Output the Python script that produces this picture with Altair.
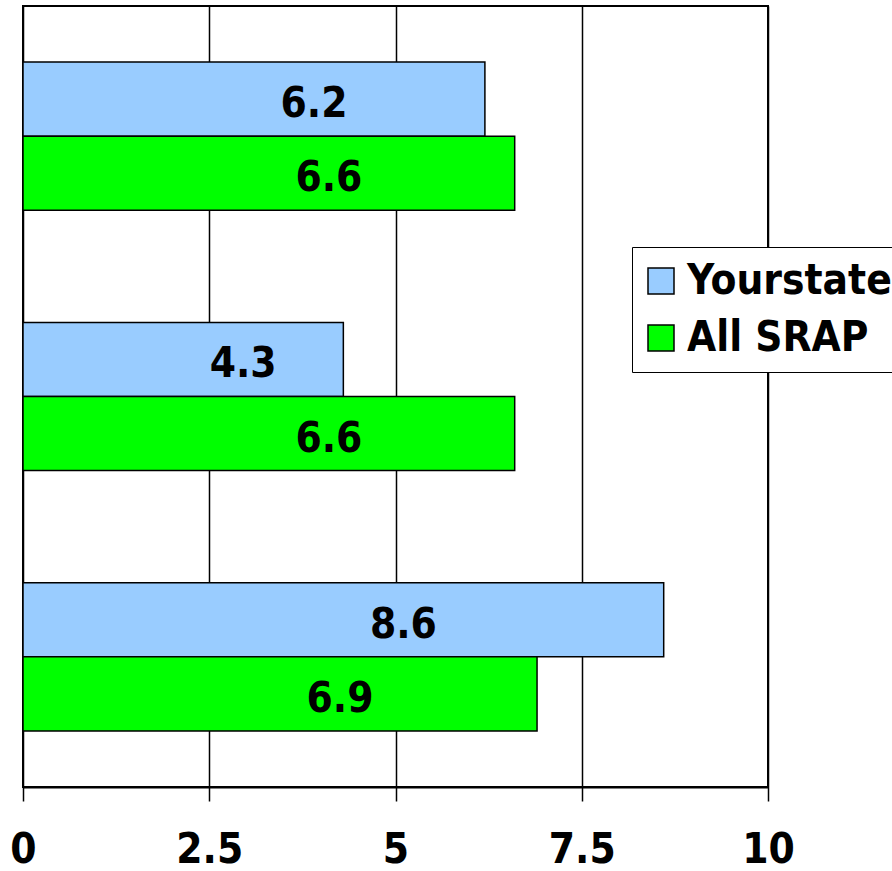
import altair as alt
import pandas as pd

groups = ["Group 1", "Group 2", "Group 3"]
series = ["Yourstate", "All SRAP"]
yourstate = [6.2, 4.3, 8.6]
all_srap = [6.6, 6.6, 6.9]
x_ticks = [0, 2.5, 5, 7.5, 10]
colors = ["#99CCFF", "#00FF00"]

rows = []
for g, a, b in zip(groups, yourstate, all_srap):
    rows.append({"group": g, "series": series[0], "value": a})
    rows.append({"group": g, "series": series[1], "value": b})
df = pd.DataFrame(rows)

FONT = "DejaVu Sans Condensed, DejaVu Sans, sans-serif"

base = alt.Chart(df).encode(
    y=alt.Y("group:N", sort=groups, axis=None,
            scale=alt.Scale(paddingInner=0.431, paddingOuter=0.2155)),
    yOffset=alt.YOffset("series:N", sort=series,
                        scale=alt.Scale(paddingInner=0, paddingOuter=0)),
)

bars = base.mark_bar(stroke="black", strokeWidth=1.5).encode(
    x=alt.X("value:Q", scale=alt.Scale(domain=[0, 10], nice=False),
            axis=alt.Axis(values=x_ticks, title=None, grid=True, gridColor="black",
                          gridWidth=1.5, gridOpacity=1, domainColor="black",
                          domainWidth=2, tickColor="black", tickSize=14, tickWidth=1.5,
                          format="~g",
                          labelFontSize=42, labelFont=FONT, labelFontWeight="bold",
                          labelColor="black", labelPadding=28, labelFlush=False)),
    color=alt.Color("series:N", sort=series,
                    scale=alt.Scale(domain=series, range=colors),
                    legend=alt.Legend(orient="none", legendX=609, legendY=241, title=None,
                                      strokeColor="black", fillColor="white", padding=13,
                                      symbolType="square", symbolSize=676, symbolOffset=-5,
                                      symbolStrokeColor="black", symbolStrokeWidth=1.5,
                                      labelFontSize=42, labelFont=FONT,
                                      labelFontWeight="bold", labelColor="black",
                                      labelLimit=500, rowPadding=15, labelOffset=5)),
)

text = base.transform_calculate(mid="datum.value / 2").mark_text(
    dx=60, dy=5, fontSize=42, fontWeight="bold", font=FONT, color="black"
).encode(
    x=alt.X("mid:Q"),
    text=alt.Text("value:Q", format=".1f"),
)

chart = alt.layer(bars, text).properties(
    width=745, height=781,
    autosize=alt.AutoSizeParams(type="none"),
    padding={"left": 23, "top": 6, "right": 124, "bottom": 84},
).configure_view(stroke="black", strokeWidth=2)

chart.save("out.html", embed_options={"renderer": "svg", "actions": False})
